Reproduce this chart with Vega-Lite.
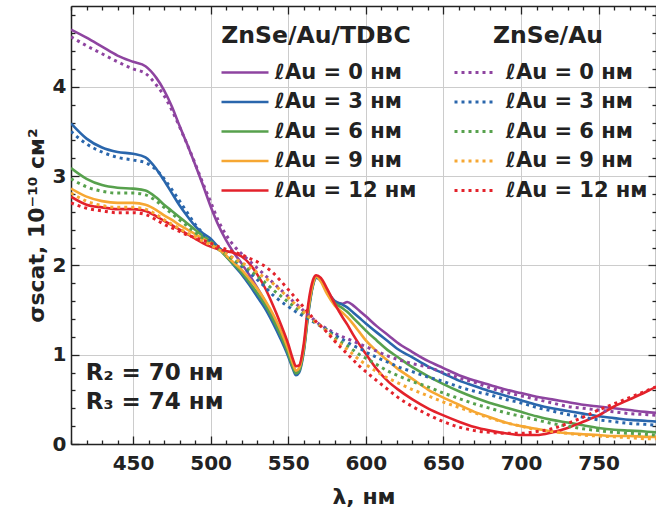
{
  "$schema": "https://vega.github.io/schema/vega-lite/v6.json",
  "width": 585,
  "height": 438,
  "autosize": {"type": "none"},
  "padding": {"left": 71, "top": 6, "right": 0, "bottom": 71},
  "background": "white",
  "config": {
    "font": "DejaVu Sans",
    "view": {"stroke": null},
    "axis": {
      "domainColor": "#222222",
      "domainWidth": 1.5,
      "tickColor": "#222222",
      "tickWidth": 1.3,
      "gridColor": "#cccccc",
      "gridWidth": 1,
      "labelFont": "DejaVu Sans",
      "labelFontWeight": "bold",
      "labelFontSize": 20,
      "labelColor": "#222222",
      "titleFont": "DejaVu Sans",
      "titleFontWeight": "bold",
      "titleFontSize": 22,
      "titleColor": "#222222"
    },
    "legend": {
      "labelFont": "DejaVu Sans",
      "labelFontWeight": "bold",
      "labelFontSize": 21,
      "labelColor": "#222222",
      "titleFont": "DejaVu Sans",
      "titleFontWeight": "bold",
      "titleFontSize": 23.5,
      "titleColor": "#222222",
      "titleLimit": 300,
      "labelLimit": 300,
      "padding": 0
    }
  },
  "datasets": {
    "tdbc": [
      {"lambda": 410, "l0": 4.64, "l3": 3.59, "l6": 3.09, "l9": 2.86, "l12": 2.77},
      {"lambda": 420, "l0": 4.55, "l3": 3.42, "l6": 2.97, "l9": 2.77, "l12": 2.68},
      {"lambda": 430, "l0": 4.45, "l3": 3.32, "l6": 2.90, "l9": 2.72, "l12": 2.65},
      {"lambda": 440, "l0": 4.35, "l3": 3.27, "l6": 2.87, "l9": 2.70, "l12": 2.63},
      {"lambda": 450, "l0": 4.28, "l3": 3.25, "l6": 2.86, "l9": 2.70, "l12": 2.63},
      {"lambda": 458, "l0": 4.23, "l3": 3.21, "l6": 2.84, "l9": 2.68, "l12": 2.61},
      {"lambda": 465, "l0": 4.10, "l3": 3.08, "l6": 2.76, "l9": 2.62, "l12": 2.55},
      {"lambda": 470, "l0": 3.96, "l3": 2.95, "l6": 2.68, "l9": 2.56, "l12": 2.50},
      {"lambda": 475, "l0": 3.78, "l3": 2.81, "l6": 2.61, "l9": 2.51, "l12": 2.45},
      {"lambda": 480, "l0": 3.56, "l3": 2.67, "l6": 2.54, "l9": 2.45, "l12": 2.40},
      {"lambda": 485, "l0": 3.35, "l3": 2.55, "l6": 2.47, "l9": 2.40, "l12": 2.35},
      {"lambda": 490, "l0": 3.13, "l3": 2.44, "l6": 2.40, "l9": 2.35, "l12": 2.30},
      {"lambda": 495, "l0": 2.90, "l3": 2.36, "l6": 2.33, "l9": 2.30, "l12": 2.25},
      {"lambda": 500, "l0": 2.66, "l3": 2.30, "l6": 2.27, "l9": 2.25, "l12": 2.21},
      {"lambda": 505, "l0": 2.45, "l3": 2.20, "l6": 2.19, "l9": 2.19, "l12": 2.18},
      {"lambda": 510, "l0": 2.28, "l3": 2.10, "l6": 2.10, "l9": 2.11, "l12": 2.16},
      {"lambda": 515, "l0": 2.14, "l3": 2.00, "l6": 2.01, "l9": 2.03, "l12": 2.14},
      {"lambda": 520, "l0": 2.02, "l3": 1.90, "l6": 1.92, "l9": 1.95, "l12": 2.10},
      {"lambda": 525, "l0": 1.89, "l3": 1.78, "l6": 1.81, "l9": 1.85, "l12": 2.02},
      {"lambda": 530, "l0": 1.75, "l3": 1.65, "l6": 1.69, "l9": 1.74, "l12": 1.90},
      {"lambda": 535, "l0": 1.60, "l3": 1.52, "l6": 1.56, "l9": 1.61, "l12": 1.75},
      {"lambda": 540, "l0": 1.43, "l3": 1.36, "l6": 1.40, "l9": 1.46, "l12": 1.56},
      {"lambda": 545, "l0": 1.25, "l3": 1.18, "l6": 1.22, "l9": 1.28, "l12": 1.35},
      {"lambda": 550, "l0": 1.04, "l3": 0.98, "l6": 1.01, "l9": 1.06, "l12": 1.12},
      {"lambda": 553, "l0": 0.89, "l3": 0.84, "l6": 0.86, "l9": 0.90, "l12": 0.95},
      {"lambda": 555, "l0": 0.80, "l3": 0.77, "l6": 0.79, "l9": 0.82, "l12": 0.87},
      {"lambda": 557, "l0": 0.84, "l3": 0.80, "l6": 0.82, "l9": 0.85, "l12": 0.88},
      {"lambda": 560, "l0": 1.07, "l3": 1.03, "l6": 1.05, "l9": 1.08, "l12": 1.12},
      {"lambda": 563, "l0": 1.50, "l3": 1.47, "l6": 1.49, "l9": 1.52, "l12": 1.58},
      {"lambda": 566, "l0": 1.79, "l3": 1.78, "l6": 1.79, "l9": 1.80, "l12": 1.84},
      {"lambda": 568, "l0": 1.87, "l3": 1.86, "l6": 1.87, "l9": 1.88, "l12": 1.89},
      {"lambda": 571, "l0": 1.84, "l3": 1.83, "l6": 1.83, "l9": 1.82, "l12": 1.86},
      {"lambda": 575, "l0": 1.72, "l3": 1.71, "l6": 1.70, "l9": 1.68, "l12": 1.74},
      {"lambda": 580, "l0": 1.60, "l3": 1.60, "l6": 1.58, "l9": 1.55, "l12": 1.57},
      {"lambda": 585, "l0": 1.57, "l3": 1.56, "l6": 1.52, "l9": 1.47, "l12": 1.42},
      {"lambda": 588, "l0": 1.59, "l3": 1.53, "l6": 1.48, "l9": 1.42, "l12": 1.34},
      {"lambda": 592, "l0": 1.55, "l3": 1.47, "l6": 1.41, "l9": 1.34, "l12": 1.22},
      {"lambda": 596, "l0": 1.49, "l3": 1.41, "l6": 1.34, "l9": 1.25, "l12": 1.11},
      {"lambda": 600, "l0": 1.43, "l3": 1.35, "l6": 1.27, "l9": 1.16, "l12": 1.01},
      {"lambda": 607, "l0": 1.32, "l3": 1.25, "l6": 1.16, "l9": 1.04, "l12": 0.84},
      {"lambda": 615, "l0": 1.21, "l3": 1.14, "l6": 1.04, "l9": 0.92, "l12": 0.69},
      {"lambda": 620, "l0": 1.14, "l3": 1.07, "l6": 0.98, "l9": 0.85, "l12": 0.62},
      {"lambda": 630, "l0": 1.03, "l3": 0.97, "l6": 0.86, "l9": 0.73, "l12": 0.50},
      {"lambda": 640, "l0": 0.93, "l3": 0.87, "l6": 0.76, "l9": 0.61, "l12": 0.40},
      {"lambda": 650, "l0": 0.85, "l3": 0.79, "l6": 0.67, "l9": 0.52, "l12": 0.32},
      {"lambda": 660, "l0": 0.77, "l3": 0.71, "l6": 0.59, "l9": 0.44, "l12": 0.25},
      {"lambda": 670, "l0": 0.71, "l3": 0.65, "l6": 0.52, "l9": 0.36, "l12": 0.19},
      {"lambda": 680, "l0": 0.66, "l3": 0.59, "l6": 0.46, "l9": 0.30, "l12": 0.15},
      {"lambda": 690, "l0": 0.61, "l3": 0.54, "l6": 0.41, "l9": 0.24, "l12": 0.12},
      {"lambda": 700, "l0": 0.57, "l3": 0.49, "l6": 0.36, "l9": 0.20, "l12": 0.10},
      {"lambda": 710, "l0": 0.53, "l3": 0.44, "l6": 0.31, "l9": 0.17, "l12": 0.10},
      {"lambda": 720, "l0": 0.50, "l3": 0.40, "l6": 0.27, "l9": 0.14, "l12": 0.13},
      {"lambda": 730, "l0": 0.47, "l3": 0.37, "l6": 0.24, "l9": 0.12, "l12": 0.18},
      {"lambda": 740, "l0": 0.44, "l3": 0.34, "l6": 0.21, "l9": 0.11, "l12": 0.25},
      {"lambda": 750, "l0": 0.42, "l3": 0.31, "l6": 0.18, "l9": 0.10, "l12": 0.32},
      {"lambda": 760, "l0": 0.40, "l3": 0.29, "l6": 0.16, "l9": 0.09, "l12": 0.42},
      {"lambda": 770, "l0": 0.38, "l3": 0.27, "l6": 0.15, "l9": 0.09, "l12": 0.50},
      {"lambda": 780, "l0": 0.36, "l3": 0.26, "l6": 0.14, "l9": 0.08, "l12": 0.58},
      {"lambda": 787, "l0": 0.35, "l3": 0.25, "l6": 0.13, "l9": 0.08, "l12": 0.64}
    ],
    "au": [
      {"lambda": 410, "l0": 4.56, "l3": 3.50, "l6": 2.97, "l9": 2.81, "l12": 2.70},
      {"lambda": 420, "l0": 4.46, "l3": 3.36, "l6": 2.88, "l9": 2.72, "l12": 2.64},
      {"lambda": 430, "l0": 4.37, "l3": 3.27, "l6": 2.83, "l9": 2.67, "l12": 2.61},
      {"lambda": 440, "l0": 4.28, "l3": 3.21, "l6": 2.81, "l9": 2.65, "l12": 2.59},
      {"lambda": 450, "l0": 4.20, "l3": 3.18, "l6": 2.81, "l9": 2.65, "l12": 2.59},
      {"lambda": 458, "l0": 4.15, "l3": 3.15, "l6": 2.79, "l9": 2.63, "l12": 2.57},
      {"lambda": 465, "l0": 4.02, "l3": 3.07, "l6": 2.72, "l9": 2.57, "l12": 2.51},
      {"lambda": 470, "l0": 3.90, "l3": 2.97, "l6": 2.65, "l9": 2.51, "l12": 2.46},
      {"lambda": 475, "l0": 3.74, "l3": 2.85, "l6": 2.58, "l9": 2.46, "l12": 2.42},
      {"lambda": 480, "l0": 3.55, "l3": 2.72, "l6": 2.51, "l9": 2.41, "l12": 2.38},
      {"lambda": 485, "l0": 3.35, "l3": 2.59, "l6": 2.44, "l9": 2.36, "l12": 2.34},
      {"lambda": 490, "l0": 3.14, "l3": 2.46, "l6": 2.37, "l9": 2.32, "l12": 2.31},
      {"lambda": 495, "l0": 2.92, "l3": 2.36, "l6": 2.30, "l9": 2.27, "l12": 2.28},
      {"lambda": 500, "l0": 2.71, "l3": 2.27, "l6": 2.24, "l9": 2.23, "l12": 2.25},
      {"lambda": 505, "l0": 2.50, "l3": 2.20, "l6": 2.18, "l9": 2.18, "l12": 2.21},
      {"lambda": 510, "l0": 2.34, "l3": 2.13, "l6": 2.12, "l9": 2.13, "l12": 2.18},
      {"lambda": 515, "l0": 2.22, "l3": 2.06, "l6": 2.06, "l9": 2.08, "l12": 2.15},
      {"lambda": 520, "l0": 2.13, "l3": 1.99, "l6": 2.01, "l9": 2.03, "l12": 2.12},
      {"lambda": 525, "l0": 2.05, "l3": 1.92, "l6": 1.95, "l9": 1.98, "l12": 2.08},
      {"lambda": 530, "l0": 1.97, "l3": 1.84, "l6": 1.88, "l9": 1.92, "l12": 2.04},
      {"lambda": 535, "l0": 1.89, "l3": 1.76, "l6": 1.81, "l9": 1.86, "l12": 1.99},
      {"lambda": 540, "l0": 1.81, "l3": 1.67, "l6": 1.73, "l9": 1.80, "l12": 1.92},
      {"lambda": 545, "l0": 1.73, "l3": 1.60, "l6": 1.66, "l9": 1.72, "l12": 1.83},
      {"lambda": 550, "l0": 1.65, "l3": 1.54, "l6": 1.59, "l9": 1.64, "l12": 1.73},
      {"lambda": 553, "l0": 1.60, "l3": 1.50, "l6": 1.55, "l9": 1.59, "l12": 1.67},
      {"lambda": 555, "l0": 1.57, "l3": 1.48, "l6": 1.52, "l9": 1.56, "l12": 1.63},
      {"lambda": 557, "l0": 1.54, "l3": 1.46, "l6": 1.50, "l9": 1.53, "l12": 1.59},
      {"lambda": 560, "l0": 1.49, "l3": 1.43, "l6": 1.46, "l9": 1.48, "l12": 1.53},
      {"lambda": 563, "l0": 1.44, "l3": 1.40, "l6": 1.42, "l9": 1.43, "l12": 1.47},
      {"lambda": 566, "l0": 1.40, "l3": 1.37, "l6": 1.38, "l9": 1.39, "l12": 1.41},
      {"lambda": 568, "l0": 1.37, "l3": 1.35, "l6": 1.36, "l9": 1.36, "l12": 1.37},
      {"lambda": 571, "l0": 1.33, "l3": 1.32, "l6": 1.32, "l9": 1.32, "l12": 1.32},
      {"lambda": 575, "l0": 1.29, "l3": 1.28, "l6": 1.27, "l9": 1.26, "l12": 1.25},
      {"lambda": 580, "l0": 1.24, "l3": 1.22, "l6": 1.19, "l9": 1.17, "l12": 1.15},
      {"lambda": 585, "l0": 1.20, "l3": 1.17, "l6": 1.13, "l9": 1.10, "l12": 1.06},
      {"lambda": 588, "l0": 1.18, "l3": 1.14, "l6": 1.10, "l9": 1.06, "l12": 1.01},
      {"lambda": 592, "l0": 1.15, "l3": 1.10, "l6": 1.05, "l9": 1.00, "l12": 0.94},
      {"lambda": 596, "l0": 1.12, "l3": 1.07, "l6": 1.00, "l9": 0.94, "l12": 0.87},
      {"lambda": 600, "l0": 1.09, "l3": 1.03, "l6": 0.96, "l9": 0.89, "l12": 0.81},
      {"lambda": 607, "l0": 1.04, "l3": 0.97, "l6": 0.89, "l9": 0.81, "l12": 0.71},
      {"lambda": 615, "l0": 0.98, "l3": 0.91, "l6": 0.81, "l9": 0.73, "l12": 0.60},
      {"lambda": 620, "l0": 0.95, "l3": 0.87, "l6": 0.77, "l9": 0.69, "l12": 0.53},
      {"lambda": 630, "l0": 0.90, "l3": 0.81, "l6": 0.70, "l9": 0.61, "l12": 0.42},
      {"lambda": 640, "l0": 0.86, "l3": 0.75, "l6": 0.64, "l9": 0.54, "l12": 0.33},
      {"lambda": 650, "l0": 0.80, "l3": 0.70, "l6": 0.57, "l9": 0.47, "l12": 0.25},
      {"lambda": 660, "l0": 0.74, "l3": 0.64, "l6": 0.51, "l9": 0.41, "l12": 0.19},
      {"lambda": 670, "l0": 0.69, "l3": 0.59, "l6": 0.45, "l9": 0.35, "l12": 0.15},
      {"lambda": 680, "l0": 0.63, "l3": 0.55, "l6": 0.40, "l9": 0.29, "l12": 0.13},
      {"lambda": 690, "l0": 0.58, "l3": 0.50, "l6": 0.35, "l9": 0.24, "l12": 0.12},
      {"lambda": 700, "l0": 0.54, "l3": 0.46, "l6": 0.31, "l9": 0.20, "l12": 0.12},
      {"lambda": 710, "l0": 0.50, "l3": 0.41, "l6": 0.27, "l9": 0.16, "l12": 0.14},
      {"lambda": 720, "l0": 0.46, "l3": 0.37, "l6": 0.23, "l9": 0.14, "l12": 0.17},
      {"lambda": 730, "l0": 0.42, "l3": 0.33, "l6": 0.20, "l9": 0.12, "l12": 0.23},
      {"lambda": 740, "l0": 0.40, "l3": 0.30, "l6": 0.17, "l9": 0.10, "l12": 0.30},
      {"lambda": 750, "l0": 0.38, "l3": 0.27, "l6": 0.15, "l9": 0.09, "l12": 0.38},
      {"lambda": 760, "l0": 0.36, "l3": 0.25, "l6": 0.13, "l9": 0.08, "l12": 0.45},
      {"lambda": 770, "l0": 0.34, "l3": 0.23, "l6": 0.12, "l9": 0.07, "l12": 0.52},
      {"lambda": 780, "l0": 0.33, "l3": 0.22, "l6": 0.11, "l9": 0.06, "l12": 0.59},
      {"lambda": 787, "l0": 0.32, "l3": 0.21, "l6": 0.10, "l9": 0.06, "l12": 0.64}
    ],
    "notes": [
      {"lambda": 419.5, "sigma": 0.80, "label": "R₂ = 70 нм"},
      {"lambda": 419.5, "sigma": 0.47, "label": "R₃ = 74 нм"}
    ]
  },
  "layer": [
    {
      "data": {"name": "tdbc"},
      "transform": [{"fold": ["l0", "l3", "l6", "l9", "l12"], "as": ["shell", "sigma"]}],
      "mark": {"type": "line", "strokeWidth": 2.6, "interpolate": "monotone", "clip": true},
      "encoding": {
        "x": {
          "field": "lambda", "type": "quantitative",
          "scale": {"domain": [410, 787], "nice": false, "zero": false},
          "axis": {
            "orient": "bottom",
            "title": "λ, нм",
            "titlePadding": 13,
            "values": [410, 420, 430, 440, 450, 460, 470, 480, 490, 500, 510, 520, 530, 540, 550, 560, 570, 580, 590, 600, 610, 620, 630, 640, 650, 660, 670, 680, 690, 700, 710, 720, 730, 740, 750, 760, 770, 780],
            "labelExpr": "datum.value % 50 === 0 ? format(datum.value, 'd') : ''",
            "labelFlush": false,
            "tickSize": {"expr": "datum.value % 50 === 0 ? -8 : -4"},
            "labelPadding": 17,
            "grid": true,
            "gridOpacity": {"condition": {"test": "datum.value % 50 === 0", "value": 1}, "value": 0}
          }
        },
        "y": {
          "field": "sigma", "type": "quantitative",
          "scale": {"domain": [0, 4.905], "nice": false, "zero": false},
          "axis": {
            "orient": "left",
            "title": "σscat, 10⁻¹⁰ см²",
            "titlePadding": 4,
            "values": [0, 0.2, 0.4, 0.6, 0.8, 1, 1.2, 1.4, 1.6, 1.8, 2, 2.2, 2.4, 2.6, 2.8, 3, 3.2, 3.4, 3.6, 3.8, 4, 4.2, 4.4, 4.6, 4.8],
            "labelExpr": "abs(datum.value - round(datum.value)) < 0.001 ? format(datum.value, 'd') : ''",
            "tickSize": {"expr": "abs(datum.value - round(datum.value)) < 0.001 ? -8 : -4"},
            "labelPadding": 13,
            "grid": true,
            "gridOpacity": {"condition": {"test": "abs(datum.value - round(datum.value)) < 0.001", "value": 1}, "value": 0}
          }
        },
        "color": {
          "field": "shell", "type": "nominal",
          "scale": {"domain": ["l0", "l3", "l6", "l9", "l12"], "range": ["#8E44A0", "#2A66AC", "#57A14D", "#F6A733", "#E3222B"]},
          "legend": {
            "title": "ZnSe/Au/TDBC",
            "orient": "none",
            "legendX": 145,
            "legendY": 18,
            "symbolType": "M-1,0H8.4",
            "symbolSize": 100,
            "symbolStrokeWidth": 2.6,
            "labelOffset": 38,
            "titleAnchor": "middle",
            "titlePadding": 14.5,
            "rowPadding": 7.5,
            "labelExpr": "'ℓAu = ' + slice(datum.value, 1) + ' нм'",
            "encode": {
              "symbols": {
                "update": {
                  "stroke": {"signal": "{'l0': '#8E4A9A', 'l3': '#0000F0', 'l6': '#5AA050', 'l9': '#F6A733', 'l12': '#FF0000'}[datum.value]"}
                }
              }
            }
          }
        }
      }
    },
    {
      "data": {"name": "au"},
      "transform": [{"fold": ["l0", "l3", "l6", "l9", "l12"], "as": ["shell", "sigma"]}],
      "mark": {"type": "line", "strokeWidth": 3, "strokeDash": [3, 4], "interpolate": "monotone", "clip": true},
      "encoding": {
        "x": {
          "field": "lambda", "type": "quantitative",
          "scale": {"domain": [410, 787], "nice": false, "zero": false},
          "axis": {
            "orient": "top",
            "title": null,
            "labels": false,
            "grid": false,
            "values": [410, 420, 430, 440, 450, 460, 470, 480, 490, 500, 510, 520, 530, 540, 550, 560, 570, 580, 590, 600, 610, 620, 630, 640, 650, 660, 670, 680, 690, 700, 710, 720, 730, 740, 750, 760, 770, 780],
            "tickSize": {"expr": "datum.value % 50 === 0 ? -8 : -4"}
          }
        },
        "y": {
          "field": "sigma", "type": "quantitative",
          "scale": {"domain": [0, 4.905], "nice": false, "zero": false},
          "axis": {
            "orient": "right",
            "title": null,
            "labels": false,
            "grid": false,
            "values": [0, 0.2, 0.4, 0.6, 0.8, 1, 1.2, 1.4, 1.6, 1.8, 2, 2.2, 2.4, 2.6, 2.8, 3, 3.2, 3.4, 3.6, 3.8, 4, 4.2, 4.4, 4.6, 4.8],
            "tickSize": {"expr": "abs(datum.value - round(datum.value)) < 0.001 ? -8 : -4"}
          }
        },
        "color": {
          "field": "shell", "type": "nominal",
          "scale": {"domain": ["l0", "l3", "l6", "l9", "l12"], "range": ["#8E44A0", "#2A66AC", "#57A14D", "#F6A733", "#E3222B"]},
          "legend": {
            "title": "ZnSe/Au",
            "orient": "none",
            "legendX": 378,
            "legendY": 18,
            "symbolType": "M-1,0H7.2",
            "symbolSize": 100,
            "symbolStrokeWidth": 3,
            "symbolDash": [3, 4],
            "labelOffset": 36,
            "titleAnchor": "middle",
            "titlePadding": 14.5,
            "rowPadding": 7.5,
            "labelExpr": "'ℓAu = ' + slice(datum.value, 1) + ' нм'",
            "encode": {
              "symbols": {
                "update": {
                  "stroke": {"signal": "{'l0': '#8E4A9A', 'l3': '#0000F0', 'l6': '#5AA050', 'l9': '#F6A733', 'l12': '#FF0000'}[datum.value]"}
                }
              }
            }
          }
        }
      }
    },
    {
      "data": {"name": "notes"},
      "mark": {"type": "text", "align": "left", "baseline": "middle", "fontSize": 23, "fontWeight": "bold", "font": "DejaVu Sans", "color": "#222222"},
      "encoding": {
        "x": {"field": "lambda", "type": "quantitative", "axis": null},
        "y": {"field": "sigma", "type": "quantitative", "axis": null},
        "text": {"field": "label"}
      }
    }
  ],
  "resolve": {
    "scale": {"color": "independent"},
    "axis": {"x": "independent", "y": "independent"}
  }
}
